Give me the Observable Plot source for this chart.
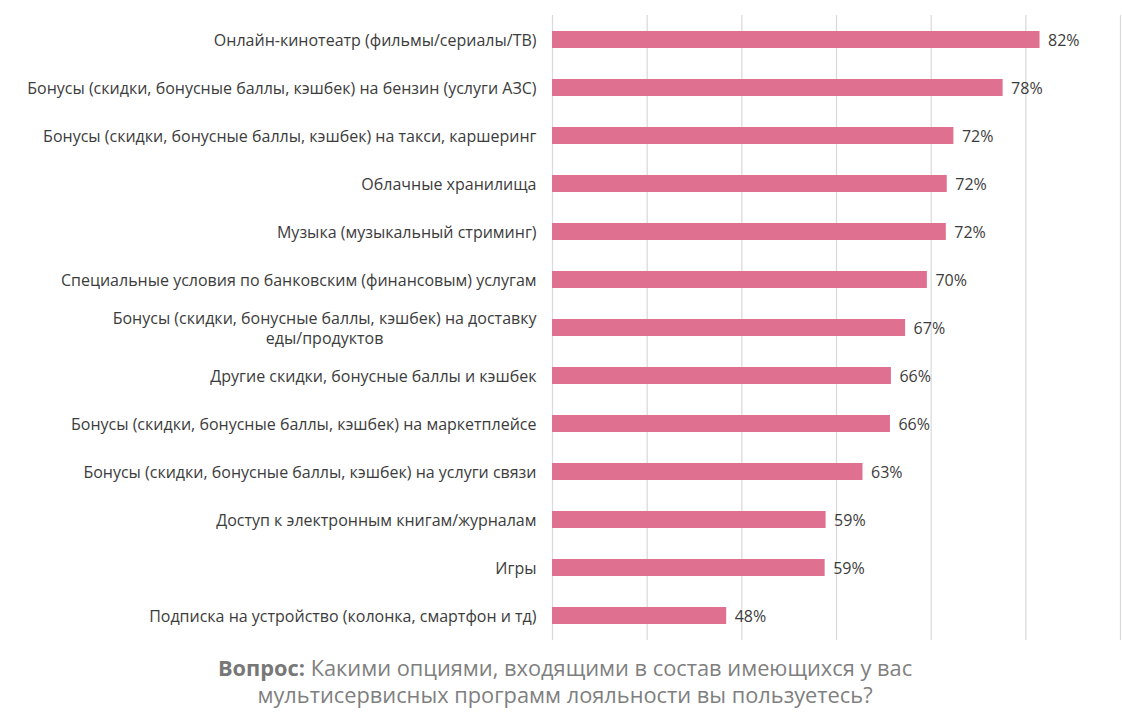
<!DOCTYPE html>
<html>
<head>
<meta charset="utf-8">
<script src="https://cdn.jsdelivr.net/npm/d3@7"></script>
<script src="https://cdn.jsdelivr.net/npm/@observablehq/plot@0.6"></script>
<style>
  html, body { margin: 0; padding: 0; background: #ffffff; }
  body { width: 1122px; height: 728px; overflow: hidden; font-family: "Open Sans", sans-serif; }
  #caption { width: 1122px; text-align: center; font-size: 21.8px; line-height: 27px; color: #7f7f7f; padding-top: 4px; padding-left: 8px; box-sizing: border-box; }
  #caption b { color: #777777; }
</style>
</head>
<body>
<div id="chart"></div>
<div id="caption"><b>Вопрос:</b> Какими опциями, входящими в состав имеющихся у вас<br>мультисервисных программ лояльности вы пользуетесь?</div>
<script>
const categories = [
  "Онлайн-кинотеатр (фильмы/сериалы/ТВ)",
  "Бонусы (скидки, бонусные баллы, кэшбек) на бензин (услуги АЗС)",
  "Бонусы (скидки, бонусные баллы, кэшбек) на такси, каршеринг",
  "Облачные хранилища",
  "Музыка (музыкальный стриминг)",
  "Специальные условия по банковским (финансовым) услугам",
  "Бонусы (скидки, бонусные баллы, кэшбек) на доставку еды/продуктов",
  "Другие скидки, бонусные баллы и кэшбек",
  "Бонусы (скидки, бонусные баллы, кэшбек) на маркетплейсе",
  "Бонусы (скидки, бонусные баллы, кэшбек) на услуги связи",
  "Доступ к электронным книгам/журналам",
  "Игры",
  "Подписка на устройство (колонка, смартфон и тд)"
];
const values = [81.5, 77.6, 72.4, 71.7, 71.6, 69.6, 67.3, 65.8, 65.7, 62.8, 58.9, 58.8, 48.4];
const valueLabels = ["82%", "78%", "72%", "72%", "72%", "70%", "67%", "66%", "66%", "63%", "59%", "59%", "48%"];
const gridTicks = [30, 40, 50, 60, 70, 80, 90];

const data = categories.map((c, i) => ({category: c, value: values[i], label: valueLabels[i]}));

const splitLabel = (s) => s === "Бонусы (скидки, бонусные баллы, кэшбек) на доставку еды/продуктов"
  ? "Бонусы (скидки, бонусные баллы, кэшбек) на доставку\nеды/продуктов" : s;

const chart = Plot.plot({
  width: 1122,
  height: 650,
  marginLeft: 552,
  marginRight: 2,
  marginTop: 15,
  marginBottom: 10,
  style: {fontFamily: "'Open Sans', sans-serif", background: "#ffffff"},
  x: {domain: [30, 90], axis: null},
  y: {domain: categories, paddingInner: 0.64, paddingOuter: 0.32, axis: null},
  marks: [
    Plot.ruleX(gridTicks, {stroke: "#d9d9d9", strokeWidth: 1.2}),
    Plot.barX(data, {x1: 30, x2: "value", y: "category", fill: "#e07090"}),
    Plot.text(data, {x: "value", y: "category", text: "label", textAnchor: "start", dx: 8, dy: 1, fontSize: 16, fill: "#3c3c3c"}),
    Plot.axisY({tickSize: 0, tickPadding: 16, fontSize: 16, fill: "#3c3c3c", lineHeight: 1.25, tickFormat: splitLabel, label: null})
  ]
});
document.getElementById("chart").appendChild(chart);

// center multi-line tick labels like the original
chart.querySelectorAll("text").forEach(t => {
  const spans = t.querySelectorAll("tspan");
  if (spans.length > 1) {
    let maxW = 0;
    spans.forEach(s => { maxW = Math.max(maxW, s.getComputedTextLength()); });
    t.setAttribute("text-anchor", "middle");
    spans.forEach(s => s.setAttribute("x", -maxW / 2));
  }
});
</script>
</body>
</html>
